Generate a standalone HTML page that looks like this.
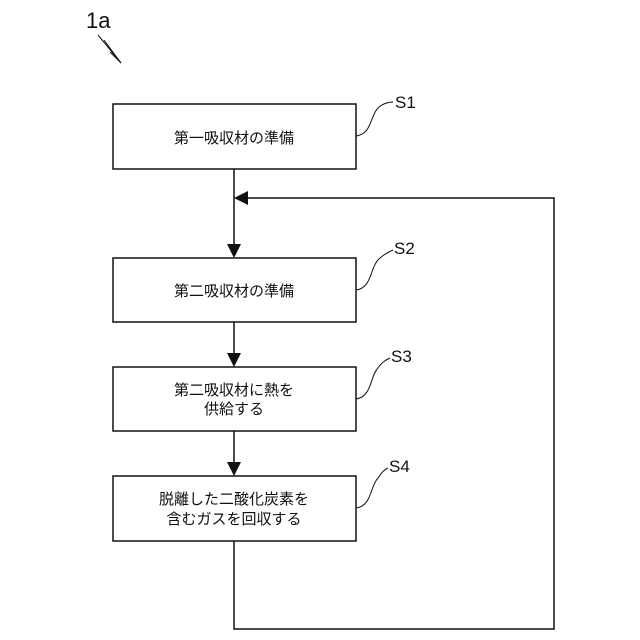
<!DOCTYPE html>
<html><head><meta charset="utf-8"><style>body{margin:0;background:#fff}</style></head><body>
<svg width="640" height="640" xmlns="http://www.w3.org/2000/svg" style="display:block">
<g font-family="'Liberation Sans','Noto Sans CJK JP',sans-serif" fill="#111">
<text x="86" y="28" font-size="22">1a</text>
<text x="395" y="108" font-size="17">S1</text>
<text x="394" y="254" font-size="17">S2</text>
<text x="391" y="362" font-size="17">S3</text>
<text x="389" y="472" font-size="17">S4</text>
<g font-size="15" text-anchor="middle">
<text x="234" y="143">第一吸収材の準備</text>
<text x="234" y="296">第二吸収材の準備</text>
<text x="234" y="395">第二吸収材に熱を</text>
<text x="234" y="414">供給する</text>
<text x="234" y="504">脱離した二酸化炭素を</text>
<text x="234" y="524">含むガスを回収する</text>
</g>
</g>
<g stroke="#111" fill="none" stroke-width="1.5">
<path d="M98 35 L121 63" stroke-width="1"/>
<path d="M104 40 L121 63 L110 52" stroke-width="1"/>
<rect x="113" y="104" width="243" height="65"/>
<rect x="113" y="258" width="243" height="64"/>
<rect x="113" y="367" width="243" height="64"/>
<rect x="113" y="476" width="243" height="65"/>
<path d="M234 169 V248 M234 322 V356 M234 431 V466 M234 541 V629 H554 V198 H246"/>
<path d="M356 136 C372 134 370 116 378 108 C382 104 388 102 393 102" stroke-width="1"/>
<path d="M356 290 C372 288 370 268 378 260 C382 256 388 252 393 250" stroke-width="1"/>
<path d="M356 399 C372 397 370 376 378 368 C382 362 386 360 390 358" stroke-width="1"/>
<path d="M356 508 C372 506 370 486 378 478 C382 472 384 470 388 468" stroke-width="1"/>
</g>
<g fill="#111">
<polygon points="234,198 248,191 248,205"/>
<polygon points="234,258 227,244 241,244"/>
<polygon points="234,367 227,353 241,353"/>
<polygon points="234,476 227,462 241,462"/>
</g>
</svg>
</body></html>
